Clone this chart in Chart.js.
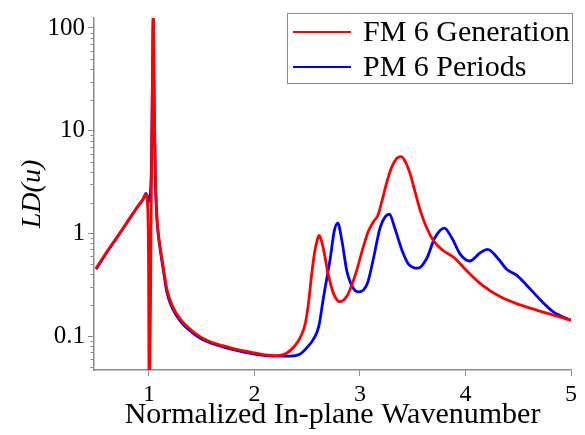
<!DOCTYPE html>
<html>
<head>
<meta charset="utf-8">
<title>LD(u)</title>
<script src="https://cdn.jsdelivr.net/npm/chart.js@4.4.1/dist/chart.umd.min.js"></script>
<style>
    html, body { margin: 0; padding: 0; background: #ffffff; }
    #wrap { width: 585px; height: 435px; }
</style>
</head>
<body>
<div id="wrap"><canvas id="chartLD" width="585" height="435"></canvas></div>
<script>
// ========== DONNÉES ==========
const seriesLabels = ['FM 6 Generation', 'PM 6 Periods'];

const fmX = [0.5, 0.6, 0.7, 0.8, 0.9, 0.95, 0.97, 0.985, 0.997, 1.002, 1.008, 1.02, 1.032, 1.042, 1.052, 1.062,
    1.075, 1.09, 1.107, 1.14, 1.17, 1.22, 1.3, 1.4, 1.5, 1.6, 1.7, 1.8, 1.9, 2.0, 2.1, 2.2, 2.3, 2.38, 2.44,
    2.48, 2.51, 2.54, 2.57, 2.6, 2.614, 2.64, 2.66, 2.7, 2.75, 2.81, 2.88, 2.93, 2.97, 3.03, 3.08, 3.13, 3.17,
    3.21, 3.255, 3.3, 3.35, 3.39, 3.43, 3.476, 3.52, 3.57, 3.63, 3.7, 3.79, 3.89, 4.01, 4.14, 4.33, 4.52, 4.77, 5.0];
const fmY = [0.46, 0.66, 0.93, 1.32, 1.87, 2.2, 2.42, 2.1, 0.5, 0.03, 0.03, 1.0, 20, 132, 15, 3.6,
    1.55, 1.0, 0.74, 0.45, 0.29, 0.2, 0.146, 0.115, 0.097, 0.087, 0.081, 0.076, 0.072, 0.069, 0.066, 0.065, 0.068, 0.08, 0.1,
    0.13, 0.2, 0.38, 0.65, 0.9, 0.96, 0.82, 0.66, 0.4, 0.26, 0.217, 0.25, 0.33, 0.44, 0.73, 1.05, 1.31, 1.5,
    2.1, 3.16, 4.4, 5.4, 5.6, 5.0, 3.8, 2.6, 1.7, 1.15, 0.84, 0.68, 0.585, 0.436, 0.326, 0.242, 0.202, 0.168, 0.143];

const pmX = [0.5, 0.6, 0.7, 0.8, 0.9, 0.95, 0.97, 0.99, 1.0, 1.01, 1.025, 1.035, 1.042, 1.05, 1.06,
    1.075, 1.09, 1.107, 1.14, 1.17, 1.22, 1.3, 1.4, 1.5, 1.6, 1.7, 1.8, 1.9, 2.0, 2.1, 2.2, 2.3, 2.43, 2.5,
    2.56, 2.61, 2.655, 2.72, 2.756, 2.79, 2.83, 2.875, 2.94, 2.99, 3.07, 3.13, 3.19, 3.24, 3.28, 3.33, 3.4,
    3.46, 3.55, 3.63, 3.71, 3.8, 3.87, 3.95, 4.04, 4.14, 4.21, 4.3, 4.39, 4.49, 4.58, 4.71, 4.83, 5.0];
const pmY = [0.45, 0.65, 0.92, 1.31, 1.86, 2.2, 2.45, 2.25, 2.05, 2.2, 5, 40, 128, 18, 3.8,
    1.45, 0.95, 0.7, 0.42, 0.27, 0.19, 0.14, 0.111, 0.094, 0.085, 0.079, 0.074, 0.07, 0.067, 0.065, 0.064, 0.064, 0.067, 0.078,
    0.094, 0.125, 0.24, 0.585, 1.05, 1.26, 0.84, 0.436, 0.29, 0.27, 0.326, 0.585, 1.13, 1.46, 1.54, 1.13, 0.68,
    0.505, 0.46, 0.565, 0.91, 1.13, 0.91, 0.63, 0.54, 0.65, 0.7, 0.585, 0.45, 0.39, 0.314, 0.226, 0.174, 0.143];

const xTicks = [1, 2, 3, 4, 5];
const yTicks = [0.1, 1, 10, 100];

(function() {
    'use strict';

    const axisColor = '#8c8c8c';
    const serif = '"Liberation Serif", "Times New Roman", serif';

    const toPoints = (xs, ys) => xs.map((x, i) => ({ x: x, y: ys[i] }));

    // ========== PETITES GRADUATIONS LOG ==========
    const minorTicks = {
        id: 'minorTicks',
        afterDraw(chart) {
            const sc = chart.scales.y;
            const c = chart.ctx;
            c.save();
            c.strokeStyle = axisColor;
            c.lineWidth = 1;
            for (let d = 0.01; d <= 100; d *= 10) {
                for (let m = 2; m <= 9; m++) {
                    const v = m * d;
                    if (v < sc.min || v > sc.max) continue;
                    const y = Math.round(sc.getPixelForValue(v)) + 0.5;
                    c.beginPath();
                    c.moveTo(sc.right, y);
                    c.lineTo(sc.right - 3.5, y);
                    c.stroke();
                }
            }
            c.restore();
        }
    };

    // ========== LÉGENDE ENCADRÉE ==========
    const boxLegend = {
        id: 'boxLegend',
        afterDraw(chart) {
            const c = chart.ctx;
            const x0 = 287, y0 = 13, w = 285, h = 70;
            c.save();
            c.fillStyle = '#ffffff';
            c.fillRect(x0, y0, w, h);
            c.strokeStyle = '#8c8c8c';
            c.lineWidth = 1;
            c.strokeRect(x0 + 0.5, y0 + 0.5, w, h);
            c.font = '30px ' + serif;
            c.textBaseline = 'middle';
            chart.data.datasets.forEach((ds, i) => {
                const y = 32 + i * 35;
                c.strokeStyle = ds.borderColor;
                c.lineWidth = 2;
                c.beginPath();
                c.moveTo(293, y);
                c.lineTo(351, y);
                c.stroke();
                c.fillStyle = '#000000';
                c.fillText(ds.label, 363, y + 1);
            });
            c.restore();
        }
    };

    new Chart(document.getElementById('chartLD'), {
        type: 'line',
        data: {
            datasets: [{
                label: seriesLabels[0],
                data: toPoints(fmX, fmY),
                borderColor: '#ff0000',
                borderWidth: 2.8,
                pointRadius: 0,
                cubicInterpolationMode: 'monotone',
                order: 0
            }, {
                label: seriesLabels[1],
                data: toPoints(pmX, pmY),
                borderColor: '#0000ff',
                borderWidth: 2.8,
                pointRadius: 0,
                cubicInterpolationMode: 'monotone',
                order: 1
            }]
        },
        options: {
            responsive: false,
            animation: false,
            layout: { padding: { top: 12, right: 14, left: 0, bottom: 0 } },
            plugins: {
                legend: { display: false },
                tooltip: { enabled: false }
            },
            scales: {
                x: {
                    type: 'linear',
                    min: 0.48,
                    max: 5,
                    afterBuildTicks: (sc) => { sc.ticks = xTicks.map(v => ({ value: v })); },
                    afterFit: (sc) => { sc.height = 65; },
                    grid: { drawOnChartArea: false, color: axisColor, tickLength: 6 },
                    border: { color: axisColor, width: 1.5 },
                    ticks: {
                        color: '#000000',
                        padding: 4,
                        font: { family: serif, size: 24 },
                        maxRotation: 0,
                        autoSkip: false
                    },
                    title: {
                        display: true,
                        text: 'Normalized In-plane Wavenumber',
                        color: '#000000',
                        font: { family: serif, size: 30 },
                        padding: { top: 0, bottom: 2 }
                    }
                },
                y: {
                    type: 'logarithmic',
                    min: 0.047,
                    max: 125,
                    afterBuildTicks: (sc) => { sc.ticks = yTicks.map(v => ({ value: v })); },
                    afterFit: (sc) => { sc.width = 94; },
                    grid: { drawOnChartArea: false, color: axisColor, tickLength: 6 },
                    border: { color: axisColor, width: 1.5 },
                    ticks: {
                        color: '#000000',
                        padding: 3,
                        font: { family: serif, size: 25 },
                        autoSkip: false,
                        callback: (v) => String(v)
                    },
                    title: {
                        display: true,
                        text: 'LD(u)',
                        color: '#000000',
                        font: { family: serif, size: 28, style: 'italic' },
                        padding: { top: 16, bottom: 0 }
                    }
                }
            }
        },
        plugins: [minorTicks, boxLegend]
    });
})();
</script>
</body>
</html>
